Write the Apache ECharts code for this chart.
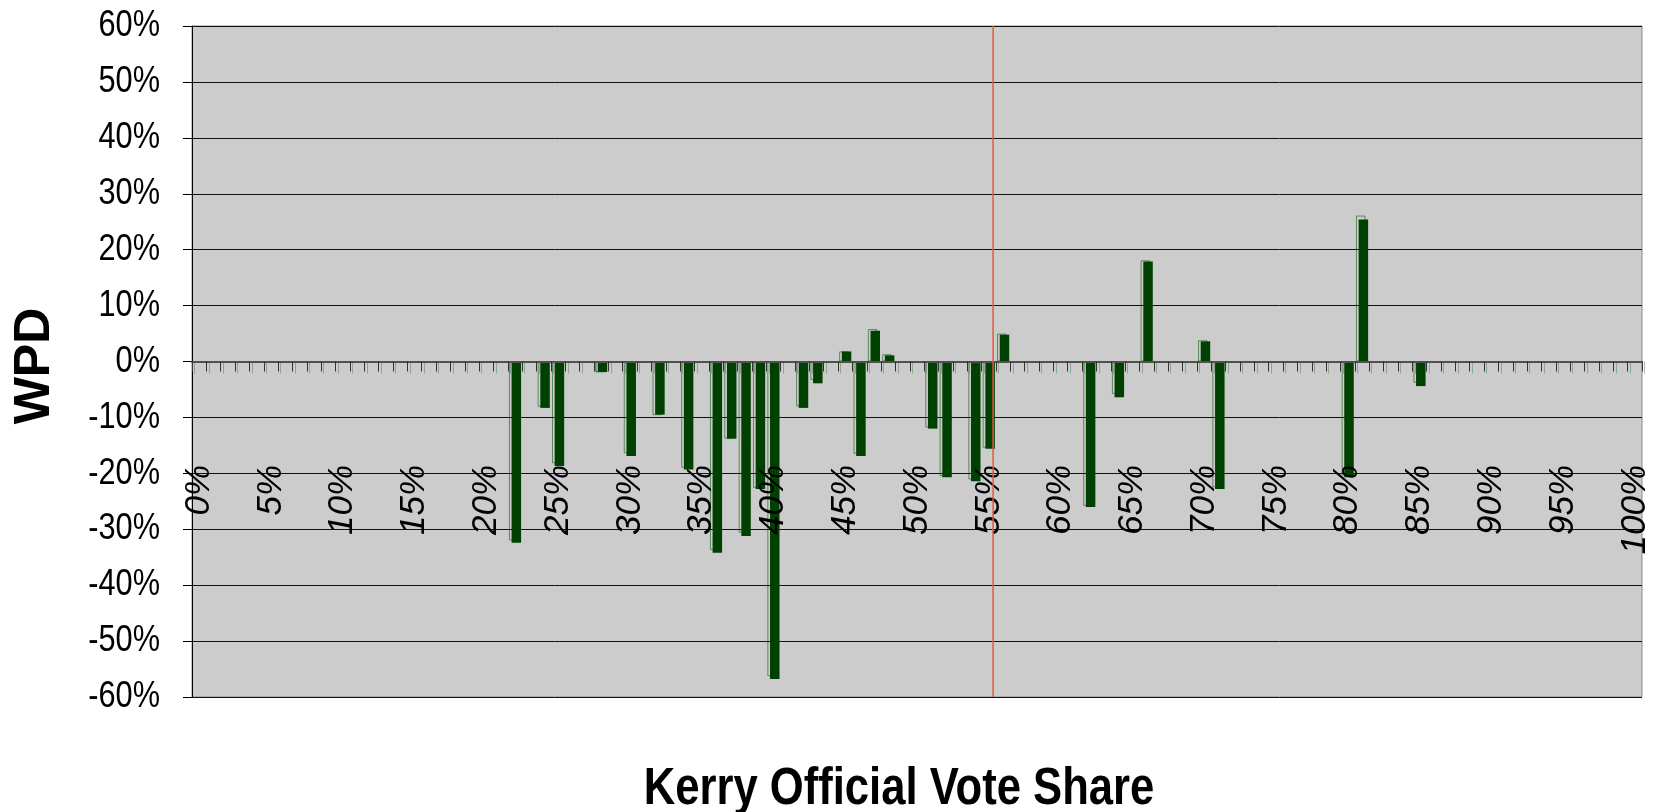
<!DOCTYPE html>
<html>
<head>
<meta charset="utf-8">
<script src="https://cdn.jsdelivr.net/npm/echarts@6/dist/echarts.min.js"></script>
<style>html,body{margin:0;padding:0;background:#fff;}#c{width:1654px;height:812px;}</style>
</head>
<body>
<div id="c"></div>
<script>
// Category axis: Kerry official vote share, 1% bins
const categories = [];
for (let i = 0; i <= 100; i++) categories.push(i + '%');
// Bins that carry a bar
const barBins = [22, 24, 25, 28, 30, 32, 34, 36, 37, 38, 39, 40, 42, 43, 45, 46, 47, 48, 51, 52, 54, 55, 56, 62, 64, 66, 70, 71, 80, 81, 85];
// WPD values (%) - filled dark series
const wpdMain = [-32.4, -8.3, -18.7, -1.9, -16.9, -9.5, -19.3, -34.2, -13.8, -31.2, -22.8, -56.8, -8.3, -3.9, 1.8, -16.9, 5.5, 1.1, -12.0, -20.7, -21.4, -15.6, 4.8, -26.0, -6.4, 17.9, 3.6, -22.8, -20.7, 25.4, -4.4];
// WPD values (%) - outlined ghost series
const wpdGhost = [-32.0, -8.1, -18.2, -1.9, -16.4, -9.6, -19.0, -33.7, -13.8, -30.6, -22.6, -56.3, -8.0, -3.3, 1.8, -16.5, 5.8, 1.3, -11.8, -20.5, -21.1, -15.4, 5.0, -25.8, -5.8, 18.1, 3.8, -22.5, -20.4, 26.1, -3.8];
// Y tick labels
const yMin = -60, yMax = 60, yStep = 10;
const yTickValues = [];
for (let v = yMin; v <= yMax; v += yStep) yTickValues.push(v);
// Vertical reference line (vote share, %)
const refShare = 55.3;

const regFont = "'Liberation Sans', Arial, sans-serif";

const mainData = barBins.map((b, i) => [categories[b], wpdMain[i]]);
const ghostData = barBins.map((b, i) => [categories[b], wpdGhost[i]]);

const chart = echarts.init(document.getElementById('c'), null, { renderer: 'canvas' });
chart.setOption({
  animation: false,
  backgroundColor: '#ffffff',
  grid: [{
    left: 192, right: 12, top: 26, bottom: 115,
    outerBoundsMode: 'none', containLabel: false,
    show: true, backgroundColor: '#cccccc', borderColor: '#8a8a8a', borderWidth: 1
  }, {
    // faint offset copy of the category ticks (print ghosting in the source)
    left: 194.5, right: 9.5, top: 26, bottom: 115,
    outerBoundsMode: 'none', containLabel: false, show: false
  }],
  xAxis: [{
    type: 'category',
    data: categories,
    boundaryGap: true,
    z: 3,
    axisLine: { onZero: true, lineStyle: { color: '#505050', width: 2 } },
    axisTick: { show: true, interval: 0, length: 10, lineStyle: { color: '#333', width: 1 } },
    axisLabel: {
      interval: 4, rotate: 90, margin: -232,
      fontFamily: regFont, fontSize: 35, fontStyle: 'italic', color: '#000'
    },
    splitLine: { show: false }
  }, {
    type: 'value', min: -0.5, max: 100.5, show: false
  }, {
    type: 'category', gridIndex: 1, data: categories, boundaryGap: true, z: 1,
    axisLine: { show: false, onZero: true },
    axisTick: { show: true, interval: 0, length: 12, lineStyle: { color: 'rgba(90,140,90,0.55)', width: 1 } },
    axisLabel: { show: false },
    splitLine: { show: false }
  }],
  yAxis: [{
    type: 'value', min: yMin, max: yMax, interval: yStep,
    axisLine: { show: true, onZero: false, lineStyle: { color: '#000', width: 1 } },
    axisTick: { show: true, length: 9, lineStyle: { color: '#000' } },
    axisLabel: { show: false },
    splitLine: { show: true, lineStyle: { color: '#111', width: 1 } }
  }, {
    type: 'value', gridIndex: 1, min: yMin, max: yMax, interval: yStep,
    axisLine: { show: false, onZero: false }, axisTick: { show: false },
    axisLabel: { show: false }, splitLine: { show: false }
  }],
  series: [{
    name: 'ghost', type: 'bar', data: ghostData, barWidth: 9.5, barGap: '-72%',
    itemStyle: { color: 'rgba(0,0,0,0)', borderColor: 'rgba(20,90,20,0.6)', borderWidth: 1 },
    silent: true
  }, {
    name: 'WPD', type: 'bar', data: mainData, barWidth: 9.5, barGap: '-72%',
    itemStyle: { color: '#004000' },
    silent: true
  }, {
    name: 'ref', type: 'line', xAxisIndex: 1,
    data: [[refShare, yMin], [refShare, yMax]],
    showSymbol: false, symbol: 'none',
    lineStyle: { color: '#e4583c', width: 1.5 },
    silent: true
  }, {
    name: 'tickGhost', type: 'line', xAxisIndex: 2, yAxisIndex: 1, data: [], silent: true
  }]
});

// Y tick labels and axis titles drawn as horizontally condensed text (as in the source image),
// placed through the axis scale.
const graphics = yTickValues.map(v => ({
  type: 'text',
  x: 160,
  y: chart.convertToPixel({ yAxisIndex: 0 }, v),
  scaleX: 0.83,
  silent: true,
  style: { text: v + '%', fontFamily: regFont, fontSize: 37, fill: '#000', align: 'right', verticalAlign: 'middle' }
}));
graphics.push({
  type: 'text', x: 899, y: 790, scaleX: 0.855, silent: true,
  style: { text: 'Kerry Official Vote Share', fontFamily: regFont, fontWeight: 'bold', fontSize: 51, fill: '#000', align: 'center', verticalAlign: 'middle' }
});
graphics.push({
  type: 'text', x: 35, y: 366, rotation: Math.PI / 2, silent: true,
  style: { text: 'WPD', fontFamily: regFont, fontWeight: 'bold', fontSize: 50, fill: '#000', align: 'center', verticalAlign: 'middle' }
});
chart.setOption({ graphic: graphics });
</script>
</body>
</html>
